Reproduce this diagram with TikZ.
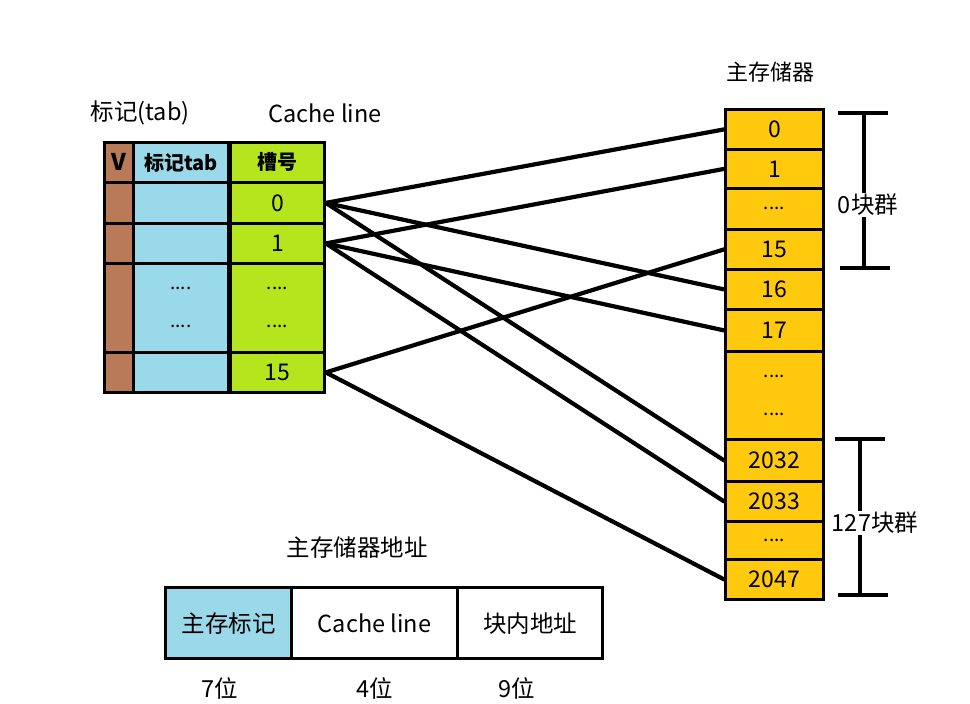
\documentclass[tikz,border=0pt]{standalone}
\usepackage{fontspec}
\setmainfont{Noto Sans CJK SC}
\usepackage{tikz}
\usetikzlibrary{positioning,calc}
\definecolor{vbrown}{HTML}{B97A57}
\definecolor{tagblue}{HTML}{99D9EA}
\definecolor{slotgreen}{HTML}{B5E61D}
\definecolor{memgold}{HTML}{FFC90E}
\tikzset{
  cell/.style   ={draw=black,line width=2.8pt,inner sep=0pt,anchor=north west,font=\fontsize{23}{26}\selectfont},
  vcell/.style  ={cell,fill=vbrown,minimum width=29pt},
  tagcell/.style={cell,fill=tagblue,minimum width=95pt},
  slotcell/.style={cell,fill=slotgreen,minimum width=94pt},
  memcell/.style={cell,fill=memgold,minimum width=98pt},
  addrcell/.style={cell,fill=white,line width=3.2pt,minimum height=71pt,font=\fontsize{23.5}{26}\selectfont},
  dots/.style   ={font=\fontsize{19}{22}\selectfont,align=center},
  lbl/.style    ={font=\fontsize{23.5}{26}\selectfont,inner sep=1pt},
  wire/.style   ={line width=4.2pt,line cap=round,draw=black},
  brk/.style    ={line width=3.6pt,draw=black},
}

\begin{document}
\begin{tikzpicture}[x=1pt,y=-1pt]
  \useasboundingbox (0,0) rectangle (970,704);

  % cache table
  \node[lbl] (tablbl)   at (140,113) {标记(tab)};
  \node[lbl] (linelbl)  at (325,113) {Cache line};

  \node[vcell,minimum height=40pt]    (vh)  at (103,141) {\textbf{V}};
  \node[tagcell,minimum height=40pt]  (th)  at (132,141) {\fontsize{20}{22}\selectfont\textbf{标记tab}};
  \node[slotcell,minimum height=40pt] (sh)  at (229,141) {\fontsize{20}{22}\selectfont\textbf{槽号}};

  \node[vcell,minimum height=41pt]    (v0)  at (103,181) {};
  \node[tagcell,minimum height=41pt]  (t0)  at (132,181) {};
  \node[slotcell,minimum height=41pt] (s0)  at (229,181) {0};

  \node[vcell,minimum height=40pt]    (v1)  at (103,222) {};
  \node[tagcell,minimum height=40pt]  (t1)  at (132,222) {};
  \node[slotcell,minimum height=40pt] (s1)  at (229,222) {1};

  \node[vcell,minimum height=89pt]    (vd)  at (103,262) {};
  \node[tagcell,minimum height=89pt,dots]  (td)  at (132,262) {....\\[16pt]....};
  \node[slotcell,minimum height=89pt,dots] (sd)  at (229,262) {....\\[16pt]....};

  \node[vcell,minimum height=40pt]    (v15) at (103,351) {};
  \node[tagcell,minimum height=40pt]  (t15) at (132,351) {};
  \node[slotcell,minimum height=40pt] (s15) at (229,351) {15};

  % main memory
  \node[lbl,font=\fontsize{22}{24}\selectfont] (memlbl) at (770,72) {主存储器};
  \node[memcell,minimum height=40pt] (m0)    at (724,108) {0};
  \node[memcell,minimum height=39pt] (m1)    at (724,148) {1};
  \node[memcell,minimum height=41pt,dots] (md1) at (724,187) {....};
  \node[memcell,minimum height=40pt] (m15)   at (724,228) {15};
  \node[memcell,minimum height=40pt] (m16)   at (724,268) {16};
  \node[memcell,minimum height=42pt] (m17)   at (724,308) {17};
  \node[memcell,minimum height=88pt,dots] (md2) at (724,350) {....\\[16pt]....};
  \node[memcell,minimum height=42pt] (m2032) at (724,438) {2032};
  \node[memcell,minimum height=40pt] (m2033) at (724,480) {2033};
  \node[memcell,minimum height=38pt,dots] (md3) at (724,520) {....};
  \node[memcell,minimum height=40pt] (m2047) at (724,558) {2047};

  % block groups
  \node[lbl] (grp0)   at (868,205) {0块群};
  \node[lbl] (grp127) at (875,523) {127块群};
  \draw[brk] (838,113) -- (888,113);
  \draw[brk] (864,113) -- (grp0.north -| 864,0);
  \draw[brk] (grp0.south -| 864,0) -- (864,268);
  \draw[brk] (840,268) -- (890,268);
  \draw[brk] (835,439) -- (885,439);
  \draw[brk] (860,439) -- (grp127.north -| 860,0);
  \draw[brk] (grp127.south -| 860,0) -- (860,595);
  \draw[brk] (838,595) -- (888,595);

  % mapping
  \draw[wire] (s0.east) -- (m0.west);
  \draw[wire] (s0.east) -- (m16.west);
  \draw[wire] (s0.east) -- (m2032.west);
  \draw[wire] (s1.east) -- (m1.west);
  \draw[wire] (s1.east) -- (m17.west);
  \draw[wire] (s1.east) -- (m2033.west);
  \draw[wire] (s15.east) -- (m15.west);
  \draw[wire] (s15.east) -- (m2047.west);

  % address format
  \node[lbl] (addrlbl) at (357,548) {主存储器地址};
  \node[addrcell,fill=tagblue,minimum width=126pt] (atag)  at (164,586) {主存标记};
  \node[addrcell,minimum width=166pt]              (aline) at (290,586) {Cache line};
  \node[addrcell,minimum width=145pt]              (aoff)  at (456,586) {块内地址};
  \node[lbl] (bits7) at (220,688) {7位};
  \node[lbl] (bits4) at (375,688) {4位};
  \node[lbl] (bits9) at (517,688) {9位};
\end{tikzpicture}
\end{document}
